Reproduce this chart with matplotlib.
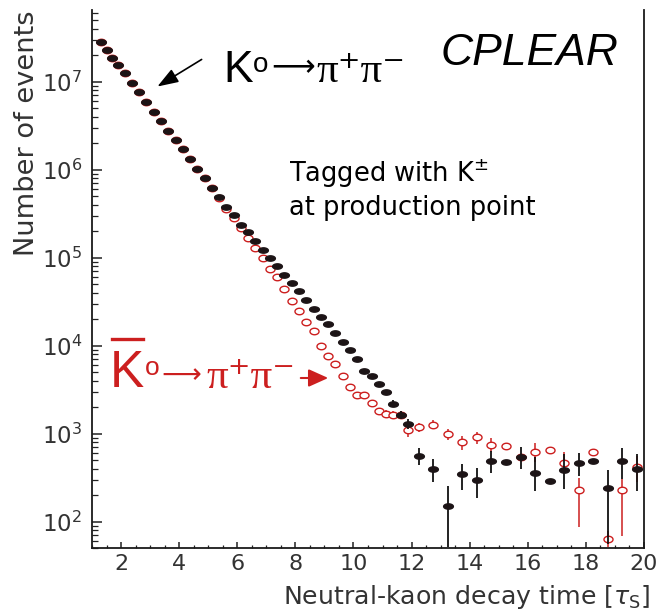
import numpy as np
import matplotlib
matplotlib.use('Agg')
import matplotlib.pyplot as plt
from matplotlib.path import Path
from matplotlib.lines import Line2D
from matplotlib.patches import FancyArrowPatch
from matplotlib.ticker import MultipleLocator, LogLocator

# decay-time bin centres [tau_S]
t_bins = [1.3, 1.5, 1.7, 1.9,
          2.125, 2.375, 2.625, 2.875, 3.125, 3.375, 3.625, 3.875,
          4.125, 4.375, 4.625, 4.875, 5.125, 5.375, 5.625, 5.875,
          6.125, 6.375, 6.625, 6.875, 7.125, 7.375, 7.625, 7.875,
          8.125, 8.375, 8.625, 8.875, 9.125, 9.375, 9.625, 9.875,
          10.125, 10.375, 10.625, 10.875, 11.125, 11.375, 11.625, 11.875,
          12.25, 12.75, 13.25, 13.75, 14.25, 14.75, 15.25, 15.75,
          16.25, 16.75, 17.25, 17.75, 18.25, 18.75, 19.25, 19.75]

# K0 -> pi+ pi- (black dots)
n_k0 = [2.8e7, 2.29e7, 1.87e7, 1.53e7,
        1.24e7, 9.7e6, 7.55e6, 5.87e6, 4.52e6, 3.54e6, 2.75e6, 2.18e6,
        1.69e6, 1.31e6, 1.02e6, 7.96e5, 6.24e5, 4.84e5, 3.8e5, 3.02e5,
        2.37e5, 1.94e5, 1.56e5, 1.23e5, 9.9e4, 7.95e4, 6.3e4, 5.1e4,
        4.19e4, 3.33e4, 2.63e4, 2.12e4, 1.77e4, 1.37e4, 1.10e4, 8.8e3,
        7.06e3, 5.2e3, 4.45e3, 3.67e3, 2.95e3, 2.18e3, 1.62e3, 1.28e3,
        558, 398, 152, 344, 294, 493, 477, 537,
        354, 292, 386, 460, 490, 239, 490, 390]

# K0bar -> pi+ pi- (red open circles)
n_k0bar = [2.8e7, 2.29e7, 1.87e7, 1.53e7,
           1.24e7, 9.7e6, 7.55e6, 5.87e6, 4.52e6, 3.54e6, 2.75e6, 2.18e6,
           1.69e6, 1.31e6, 1.02e6, 7.96e5, 6.24e5, 4.7e5, 3.57e5, 2.83e5,
           2.18e5, 1.66e5, 1.28e5, 9.8e4, 7.4e4, 5.97e4, 4.4e4, 3.24e4,
           2.46e4, 1.84e4, 1.45e4, 9.8e3, 7.7e3, 6.2e3, 4.55e3, 3.36e3,
           2.77e3, 2.77e3, 2.21e3, 1.79e3, 1.67e3, 1.63e3, 1.62e3, 1.11e3,
           1180, 1260, 993, 811, 908, 745, 718, 540,
           624, 658, 460, 229, 617, 63, 229, 414]

# visible error bars: x, lower end, upper end
k0_err_t = [11.125, 11.375, 11.625, 11.875, 12.25, 12.75, 13.25, 13.75, 14.25,
            14.75, 15.75, 16.25, 17.25, 17.75, 18.75, 19.25, 19.75]
k0_err_lo = [2.75e3, 2.0e3, 1.45e3, 1.14e3, 436, 280, 52, 229, 186,
             357, 398, 224, 235, 330, 56, 305, 224]
k0_err_hi = [3.15e3, 2.4e3, 1.8e3, 1.45e3, 676, 507, 250, 453, 403,
             641, 698, 537, 589, 597, 380, 676, 589]

k0bar_err_t = [10.875, 11.125, 11.375, 11.625, 11.875, 12.25, 12.75, 13.25,
               13.75, 14.25, 14.75, 16.25, 17.25, 17.75, 18.75, 19.25, 19.75]
k0bar_err_lo = [1.65e3, 1.55e3, 1.5e3, 1.45e3, 908, 1050, 1120, 851,
                653, 764, 620, 472, 355, 86, 52, 69, 280]
k0bar_err_hi = [1.95e3, 1.85e3, 1.8e3, 1.8e3, 1230, 1300, 1420, 1120,
                925, 1040, 880, 776, 617, 316, 78, 305, 560]

y_major = [1e2, 1e3, 1e4, 1e5, 1e6, 1e7]

W, H = 659, 611
RED = '#cc1f1f'
TXT = '#333333'


def fx(px):
    return px / W


def fy(py):
    return 1 - py / H


fig = plt.figure(figsize=(W / 100, H / 100), dpi=100)
ax = fig.add_axes([fx(92), fy(548), fx(644) - fx(92), fy(10) - fy(548)])

# flattened ellipse markers as in the original plot
th = np.linspace(0, 2 * np.pi, 60)
dot = Path(np.column_stack([np.cos(th), 0.55 * np.sin(th)]), closed=True)
ring = Path(np.column_stack([np.cos(th), 0.72 * np.sin(th)]), closed=True)

ax.vlines(k0bar_err_t, k0bar_err_lo, k0bar_err_hi, color=RED, lw=1.1, zorder=2)
ax.plot(t_bins, n_k0bar, ls='none', marker=ring, ms=6.5, mfc='white',
        mec=RED, mew=1.0, zorder=3)
ax.vlines(k0_err_t, k0_err_lo, k0_err_hi, color='#111111', lw=1.3, zorder=4)
ax.plot(t_bins, n_k0, ls='none', marker=dot, ms=7, mfc='#1c1416',
        mec='#1c1416', zorder=5)

ax.set_yscale('log')
ax.set_xlim(1, 20)
ax.set_ylim(50, 6.5e7)
ax.set_xticks(range(2, 21, 2))
ax.set_yticks(y_major)
ax.xaxis.set_minor_locator(MultipleLocator(0.5))
ax.yaxis.set_minor_locator(LogLocator(base=10, subs=np.arange(2, 10), numticks=20))
ax.tick_params(axis='both', which='both', direction='in', top=False, right=False,
               colors='#222222', labelcolor=TXT)
ax.tick_params(axis='y', which='major', length=7.5, width=1.1, labelsize=16.5, pad=7)
ax.tick_params(axis='y', which='minor', length=4, width=0.9, labelleft=False)
ax.tick_params(axis='x', which='major', length=4, width=1.1, labelsize=16, pad=4)
ax.tick_params(axis='x', which='minor', length=2.2, width=0.9)
ax.spines['top'].set_visible(False)
for s in ['left', 'bottom', 'right']:
    ax.spines[s].set_linewidth(1.3)
    ax.spines[s].set_color('#1a1a1a')

# axis titles, ROOT style (aligned to axis ends)
fig.text(fx(650), fy(604), r'Neutral-kaon decay time [$\tau_{\rm S}$]',
         ha='right', va='baseline', fontsize=18.2, color=TXT)
fig.text(fx(40), fy(10), 'Number of events', rotation=90, ha='right',
         va='top', fontsize=19.6, color=TXT)

# labels inside the frame
fig.text(fx(441), fy(65), 'CPLEAR', family='Liberation Sans', style='italic',
         fontsize=32, va='baseline')
fig.text(fx(289), fy(182), r'Tagged with K$^{\pm}$', fontsize=18.5, va='baseline')
fig.text(fx(289), fy(215), 'at production point', fontsize=18.5, va='baseline')

serif = ['Liberation Serif', 'DejaVu Serif']
pions = '\u03c0\u207a\u03c0\u207b'

# K0 -> pi+ pi-
fig.text(fx(223), fy(82), 'K', family='Liberation Sans', fontsize=32, va='baseline')
fig.text(fx(253), fy(72), 'o', family='Liberation Sans', fontsize=20, va='baseline')
fig.text(fx(271), fy(76), '\u27f6', family='DejaVu Sans', fontsize=22, va='baseline')
fig.text(fx(316), fy(82), pions, family=serif, fontsize=31, va='baseline')
fig.add_artist(FancyArrowPatch((fx(204), fy(58)), (fx(155), fy(88)),
                               transform=fig.transFigure,
                               arrowstyle='-|>,head_length=0.85,head_width=0.3',
                               mutation_scale=15, lw=1.2, color='black'))

# K0bar -> pi+ pi-
fig.add_artist(Line2D([fx(112), fx(143)], [fy(339), fy(339)], lw=2.4, color=RED,
                      transform=fig.transFigure))
fig.text(fx(110), fy(387), 'K', family='Liberation Sans', fontsize=37, va='baseline', color=RED)
fig.text(fx(145), fy(375), 'o', family='Liberation Sans', fontsize=19, va='baseline', color=RED)
fig.text(fx(161), fy(383), '\u27f6', family='DejaVu Sans', fontsize=20, va='baseline', color=RED)
fig.text(fx(206), fy(388), pions, family=serif, fontsize=31, va='baseline', color=RED)
fig.add_artist(FancyArrowPatch((fx(298), fy(378)), (fx(331), fy(378)),
                               transform=fig.transFigure,
                               arrowstyle='-|>,head_length=0.8,head_width=0.36',
                               mutation_scale=15, lw=1.5, color=RED))

fig.savefig('out.png', dpi=100)
